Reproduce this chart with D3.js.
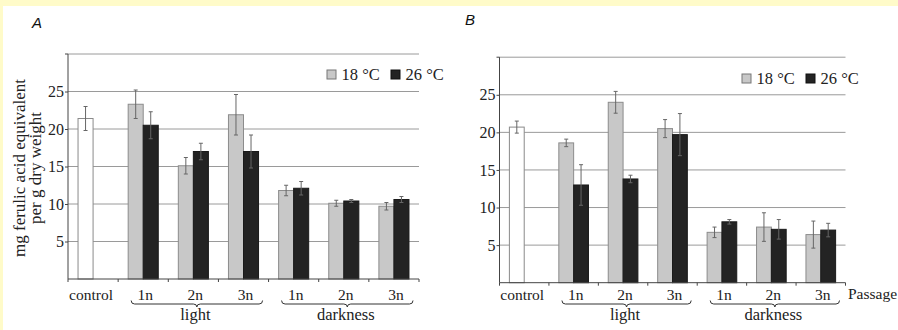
<!DOCTYPE html>
<html>
<head>
<meta charset="utf-8">
<script src="https://cdn.jsdelivr.net/npm/d3@7"></script>
<style>
  html, body { margin: 0; padding: 0; background: #ffffff; }
  svg { display: block; }
</style>
</head>
<body>
<svg id="chart" width="898" height="330"></svg>
<script>
// ---------- data ----------
const categories = ["control", "1n", "2n", "3n", "1n", "2n", "3n"];
const conditionGroups = ["light", "darkness"];
const seriesNames = ["18 °C", "26 °C"];
const yTicks = [5, 10, 15, 20, 25];

// Panel A (first entry = control, drawn in white)
const a18 = [21.4, 23.3, 15.1, 21.9, 11.8, 10.1, 9.7];
const a18Err = [1.6, 1.9, 1.1, 2.7, 0.7, 0.4, 0.5];
const a26 = [null, 20.5, 17.0, 17.0, 12.1, 10.4, 10.6];
const a26Err = [null, 1.8, 1.1, 2.2, 0.9, 0.2, 0.4];

// Panel B
const b18 = [20.7, 18.6, 24.0, 20.5, 6.7, 7.4, 6.4];
const b18Err = [0.8, 0.5, 1.45, 1.2, 0.7, 1.9, 1.8];
const b26 = [null, 13.0, 13.8, 19.7, 8.1, 7.1, 7.0];
const b26Err = [null, 2.7, 0.5, 2.8, 0.3, 1.3, 0.9];

// ---------- drawing ----------
const SERIF = "'Liberation Serif', 'Times New Roman', Times, serif";
const SANS = "'Liberation Sans', Arial, Helvetica, sans-serif";
const svg = d3.select("#chart");

// yellow frame strips
svg.append("rect").attr("x", 0).attr("y", 0).attr("width", 898).attr("height", 6).attr("fill", "#fffbc9");
svg.append("rect").attr("x", 0).attr("y", 0).attr("width", 3).attr("height", 330).attr("fill", "#fffbc9");

function brace(x0, x1, y0, y1) {
  const r = 3.5, m = (x0 + x1) / 2;
  return `M${x0},${y0} Q${x0},${y1} ${x0 + r},${y1} L${m - r},${y1} Q${m},${y1} ${m},${y1 + 3}` +
         ` Q${m},${y1} ${m + r},${y1} L${x1 - r},${y1} Q${x1},${y1} ${x1},${y0}`;
}

function serifText(sel, size) {
  return sel.style("font-family", SERIF).style("font-size", size + "px").style("fill", "#222");
}

function drawPanel(cfg) {
  const g = svg.append("g");
  const x = d3.scaleBand().domain(d3.range(categories.length)).range([cfg.x0, cfg.x1]).paddingInner(0).paddingOuter(0);
  const xs = d3.scaleBand().domain([0, 1]).range([0, x.bandwidth()]).paddingInner(0).paddingOuter(0.667);
  const y = d3.scaleLinear().domain([0, 30]).range([cfg.yBottom, cfg.yTop]);

  // gridlines (incl. top line at 30)
  g.selectAll(".grid").data(yTicks.concat([30])).enter().append("line")
    .attr("x1", cfg.x0).attr("x2", cfg.x1)
    .attr("y1", d => y(d)).attr("y2", d => y(d))
    .attr("stroke", "#9a9a9a").attr("stroke-width", 1);

  // y axis
  const yAxis = d3.axisLeft(y).tickValues(yTicks).tickSize(3).tickFormat(d3.format("d"));
  const ya = g.append("g").attr("transform", `translate(${cfg.x0},0)`).call(yAxis);
  ya.select(".domain").attr("stroke", "#444").attr("d", `M-3,${y(30)}H0V${y(0)}`);
  ya.selectAll(".tick line").attr("stroke", "#444");
  serifText(ya.selectAll(".tick text"), 16).attr("x", -4);

  // bars
  const series = [
    { vals: cfg.v18, errs: cfg.e18, slot: 0 },
    { vals: cfg.v26, errs: cfg.e26, slot: 1 }
  ];
  series.forEach((s, si) => {
    const items = s.vals.map((v, i) => ({ i, v, e: s.errs[i] })).filter(d => d.v != null);
    g.selectAll(".bar" + si).data(items).enter().append("rect")
      .attr("x", d => x(d.i) + xs(s.slot))
      .attr("y", d => y(d.v))
      .attr("width", xs.bandwidth())
      .attr("height", d => y(0) - y(d.v))
      .attr("fill", d => d.i === 0 ? "#ffffff" : (si === 0 ? "#c8c8c8" : "#232323"))
      .attr("stroke", d => d.i === 0 ? "#8a8a8a" : (si === 0 ? "#8c8c8c" : "#1a1a1a"))
      .attr("stroke-width", 1);
    const eb = g.selectAll(".err" + si).data(items).enter().append("g").attr("stroke", "#666").attr("stroke-width", 1);
    const cx = d => x(d.i) + xs(s.slot) + xs.bandwidth() / 2;
    eb.append("line").attr("x1", cx).attr("x2", cx).attr("y1", d => y(d.v + d.e)).attr("y2", d => y(d.v - d.e));
    eb.append("line").attr("x1", d => cx(d) - 2).attr("x2", d => cx(d) + 2).attr("y1", d => y(d.v + d.e)).attr("y2", d => y(d.v + d.e));
    eb.append("line").attr("x1", d => cx(d) - 2).attr("x2", d => cx(d) + 2).attr("y1", d => y(d.v - d.e)).attr("y2", d => y(d.v - d.e));
  });

  // x axis
  const xa = g.append("g").attr("transform", `translate(0,${y(0)})`);
  xa.append("line").attr("x1", cfg.x0).attr("x2", cfg.x1).attr("y1", 0).attr("y2", 0).attr("stroke", "#444");
  const bounds = d3.range(categories.length + 1).map(i => i < categories.length ? x(i) : cfg.x1);
  xa.selectAll(".xt").data(bounds).enter().append("line")
    .attr("x1", d => d).attr("x2", d => d).attr("y1", 0).attr("y2", 3).attr("stroke", "#444");

  serifText(g.selectAll(".xl").data(categories).enter().append("text"), 15.5)
    .attr("x", (d, i) => x(i) + x.bandwidth() / 2 + (i === 0 ? -2 : 2))
    .attr("y", 300)
    .attr("text-anchor", "middle")
    .text(d => d);

  // braces + group labels
  const grp = [[1, 3], [4, 6]];
  grp.forEach((r, k) => {
    const bx0 = x(r[0]) + 13, bx1 = x(r[1]) + x.bandwidth() - 6;
    g.append("path").attr("d", brace(bx0, bx1, 300.5, 304))
      .attr("fill", "none").attr("stroke", "#333").attr("stroke-width", 1);
    serifText(g.append("text"), 16.5).attr("x", (x(r[0]) + x(r[1]) + x.bandwidth()) / 2 + 2).attr("y", 320)
      .attr("text-anchor", "middle").text(conditionGroups[k]);
  });

  // legend
  const lg = g.append("g");
  const lx = [cfg.legX, cfg.legX + 64];
  seriesNames.forEach((n, k) => {
    lg.append("rect").attr("x", lx[k]).attr("y", cfg.legY - 10).attr("width", 9).attr("height", 9)
      .attr("fill", k === 0 ? "#c8c8c8" : "#232323").attr("stroke", k === 0 ? "#777" : "#111");
    serifText(lg.append("text"), 16.5).attr("x", lx[k] + 14.5).attr("y", cfg.legY).text(n);
  });

  // panel letter
  g.append("text").attr("x", cfg.letterX).attr("y", cfg.letterY)
    .style("font-family", SANS).style("font-style", "italic")
    .style("font-size", "15px").style("fill", "#111").text(cfg.letter);

  return { x, y };
}

drawPanel({ x0: 68, x1: 419, yBottom: 279, yTop: 54, v18: a18, e18: a18Err, v26: a26, e26: a26Err,
            legX: 327, legY: 80, letter: "A", letterX: 32, letterY: 28 });
drawPanel({ x0: 499.5, x1: 845.5, yBottom: 282.7, yTop: 57.2, v18: b18, e18: b18Err, v26: b26, e26: b26Err,
            legX: 742, legY: 84, letter: "B", letterX: 465, letterY: 25 });

// y axis title (panel A)
const yt = serifText(svg.append("text"), 17).attr("transform", "translate(25,168) rotate(-90)")
  .attr("text-anchor", "middle");
yt.append("tspan").attr("x", 0).attr("dy", 0).text("mg ferulic acid equivalent");
yt.append("tspan").attr("x", 0).attr("dy", 16).text("per g dry weight");

// Passage label (panel B)
serifText(svg.append("text"), 15.5).attr("x", 848).attr("y", 299).text("Passage");
</script>
</body>
</html>
